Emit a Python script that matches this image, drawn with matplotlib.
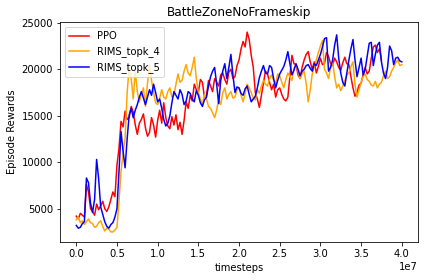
import numpy as np
import matplotlib
matplotlib.use("Agg")
import matplotlib.pyplot as plt

# rewards sampled every 0.025e7 timesteps
step = 0.025e7

ppo = [4200, 3900, 4500, 4300, 4100, 7600, 6800, 5000, 4700, 4300,
       5500, 4900, 5300, 5800, 5000, 4700, 5200, 6000, 6800, 6300,
       9700, 11500, 14400, 13800, 15500, 14600, 14800, 16000, 15400, 14000,
       13000, 14200, 14600, 15200, 13700, 12800, 13200, 14800, 14000, 12700,
       14500, 15600, 14200, 16400, 14800, 13900, 13600, 14900, 14000, 15100,
       13500, 14300, 13000, 14500, 16500, 15800, 17200, 16600, 18400, 17800,
       17500, 18900, 18600, 17000, 17200, 18800, 18200, 17600, 19000, 18600,
       18200, 19400, 19600, 18900, 18400, 19700, 20000, 19000, 19200, 20400,
       21000, 22200, 23000, 22400, 24000, 23200, 21500, 20200, 17500, 16800,
       15900, 17200, 18500, 19800, 19500, 18600, 17800, 18400, 17000, 17800,
       18000, 17300, 16800, 16600, 17000, 19200, 21500, 20600, 20500, 19400,
       19000, 20200, 21000, 21600, 21900, 20800, 20000, 20800, 19600, 20300,
       21200, 20500, 20600, 21800, 21400, 20600, 20400, 21200, 20800, 20200,
       19900, 20700, 21300, 20600, 20500, 19200, 18000, 17100, 17500, 18300,
       18500, 19400, 20200, 19500, 19800, 21200, 22400, 22600, 21800, 22200,
       21000]

rims_topk_4 = [3800, 4100, 3500, 3700, 3300, 3600, 3900, 3500, 3400, 3000,
               3100, 3500, 3700, 3100, 2600, 2900, 2800, 2500, 2500, 2700,
               3000, 5800, 9000, 11000, 12600, 17500, 20200, 19000, 16800, 19800,
               17600, 16500, 17300, 18000, 16000, 18500, 20500, 18800, 17500, 16400,
               16200, 16900, 17800, 17000, 16800, 17600, 18000, 17000, 17200, 18400,
               19500, 18600, 18800, 19800, 20500, 19600, 19300, 20200, 21300, 19000,
               17500, 16800, 16200, 17300, 16800, 16000, 15800, 15300, 14800, 15600,
               16800, 16200, 17500, 18000, 16800, 17300, 17600, 16900, 17000, 17800,
               18000, 17200, 16500, 17400, 18400, 18000, 17500, 16900, 16700, 17800,
               17400, 18200, 18800, 18400, 18200, 19000, 19400, 18800, 18500, 19500,
               19300, 18600, 18000, 18900, 19600, 19200, 18800, 20100, 20500, 19800,
               19000, 19500, 19800, 18500, 16500, 17800, 19500, 20300, 21000, 21800,
               22500, 23100, 20000, 19600, 19000, 20200, 20800, 19200, 18000, 18400,
               17700, 18200, 18800, 19400, 19600, 20300, 20800, 18400, 17000, 17800,
               18600, 19200, 19500, 18900, 18700, 18300, 18200, 18700, 18000, 18400,
               18600, 19300, 19800, 19000, 19200, 19800, 20200, 20700, 21000, 20400,
               20500]

rims_topk_5 = [3200, 2900, 3000, 3400, 3600, 8300, 7800, 5600, 4600, 6000,
               10300, 8200, 5200, 4400, 3600, 3100, 2900, 3300, 3500, 4100,
               5000, 9000, 13300, 11200, 9400, 12500, 15100, 15800, 14800, 15600,
               16200, 17000, 17600, 16900, 16200, 17000, 17800, 17200, 18400, 17500,
               16500, 16800, 15800, 14600, 13900, 14200, 15000, 16400, 17600, 17200,
               16800, 17800, 17300, 16200, 16600, 17600, 17400, 16800, 16500, 17700,
               17200, 16400, 16000, 16700, 17000, 18200, 19200, 19800, 20200, 18400,
               16300, 18800, 19800, 20600, 19000, 20200, 21600, 19400, 17500, 18100,
               18000, 17400, 17200, 17900, 18200, 17300, 16500, 16800, 17100, 18000,
               19100, 19800, 20400, 19600, 19500, 20400, 20200, 19000, 18000, 18800,
               19500, 19900, 20300, 21000, 21900, 20600, 19400, 19900, 20600, 20000,
               19300, 19800, 20000, 20400, 20500, 20100, 19800, 20600, 20400, 21000,
               21600, 22400, 23300, 23400, 19800, 20200, 21000, 22600, 23700, 21200,
               19600, 18600, 18200, 19600, 21000, 22200, 23200, 21000, 19200, 20200,
               21200, 19400, 20000, 21400, 22800, 22900, 20400, 21600, 22600, 22900,
               20800, 19600, 19000, 20200, 22500, 22000, 20500, 21200, 21300, 20900,
               20800]

series = [("PPO", ppo, "red"),
          ("RIMS_topk_4", rims_topk_4, "orange"),
          ("RIMS_topk_5", rims_topk_5, "blue")]

fig, ax = plt.subplots(figsize=(424 / 72, 280 / 72), dpi=72)
fig.subplots_adjust(left=0.1415, right=0.986, top=0.921, bottom=0.136)

for name, vals, col in series:
    t = np.arange(len(vals)) * step
    ax.plot(t, vals, color=col, label=name, linewidth=1.5)

ax.set_title("BattleZoneNoFrameskip")
ax.set_xlabel("timesteps")
ax.set_ylabel("Episode Rewards")
ax.legend(loc="upper left")

fig.savefig("out.png", dpi=72)
